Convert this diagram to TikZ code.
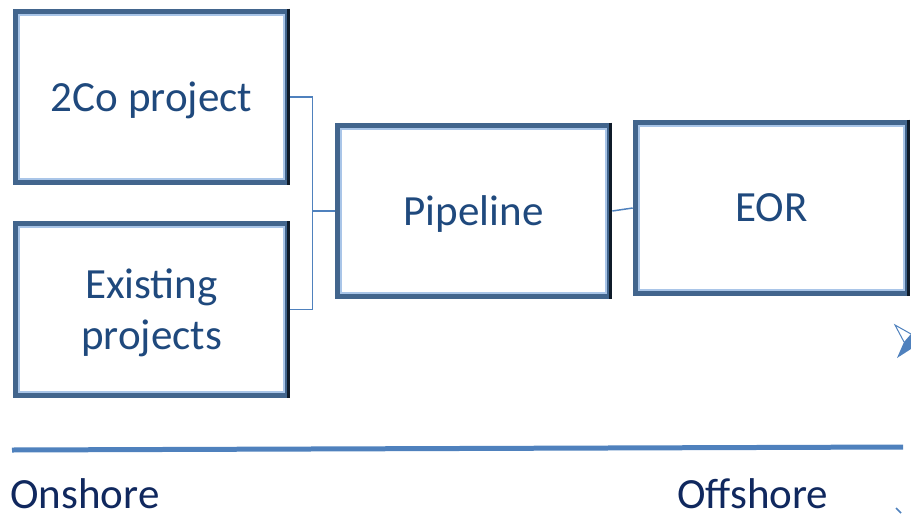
\documentclass[tikz,border=0pt]{standalone}
\usepackage{fontspec}
\setmainfont{Carlito}
\usetikzlibrary{calc}
\usetikzlibrary{positioning}

\definecolor{frameblue}{HTML}{42658D}
\definecolor{framelight}{HTML}{A9C5E8}
\definecolor{frameshade}{HTML}{0F1B29}
\definecolor{linkblue}{HTML}{4F81BD}
\definecolor{boxtext}{HTML}{1F497D}
\definecolor{shoretext}{HTML}{10285E}

\tikzset{
    stage/.style={inner sep=0pt, minimum width=5.54cm, minimum height=3.52cm,
        text=boxtext, text depth=0pt, font=\fontsize{24.5pt}{29pt}\selectfont},
    frameouter/.style={draw=frameblue, line width=0.1cm},
    frameinner/.style={draw=framelight, line width=0.04cm},
    frameedge/.style={draw=frameshade, line width=0.06cm},
    link/.style={draw=linkblue, line width=0.03cm},
    shoreline/.style={draw=linkblue, line width=0.1cm},
    shore/.style={inner sep=0pt, text=shoretext, text depth=0pt, font=\fontsize{24.5pt}{29pt}\selectfont}
}

\begin{document}
\begin{tikzpicture}[x=0.02cm,y=-0.02cm]
            \useasboundingbox (0,0) rectangle (911,513);

            \node[stage] (proj) at (151.5,97) {2Co project};
            \node[stage,align=center] (exist) at (151.5,309.5) {Existing\\projects};
            \node[stage] (pipe) at (473.5,211) {Pipeline};
            \node[stage] (eor) at (771.5,208) {EOR};

            \foreach \b in {proj,exist,pipe,eor}{
                \draw[frameouter] ($(\b.north west)+(2.5,2.5)$) rectangle ($(\b.south east)+(-2.5,-2.5)$);
                \draw[frameinner] ($(\b.north west)+(6,6)$) rectangle ($(\b.south east)+(-6,-6)$);
                \draw[frameedge] ($(\b.north east)+(-1.5,0)$) -- ($(\b.south east)+(-1.5,0)$);
            }

            \draw[link] (proj.east) -- ++(22,0) |- (exist.east);
            \draw[link] (pipe.west) -- ++(-22,0);
            \draw[link] (pipe.east) -- (eor.west);

            \coordinate (shoreW) at (12,450);
            \coordinate (shoreE) at (903,447);
            \draw[shoreline] (shoreW) -- (shoreE);

            \node[shore,anchor=base west] (on) at (10,508) {Onshore};
            \node[shore,anchor=base west] (off) at (677,508) {Offshore};

            % arrow heads cut off at the right edge
            \fill[linkblue] (904,342) -- (911,334) -- (911,349) -- (897,358) -- cycle;
            \draw[linkblue, line width=0.02cm] (911,334) -- (895,325) -- (904,342);
            \draw[linkblue, line width=0.03cm] (896,508) -- (901,513);
        \end{tikzpicture}
\end{document}
